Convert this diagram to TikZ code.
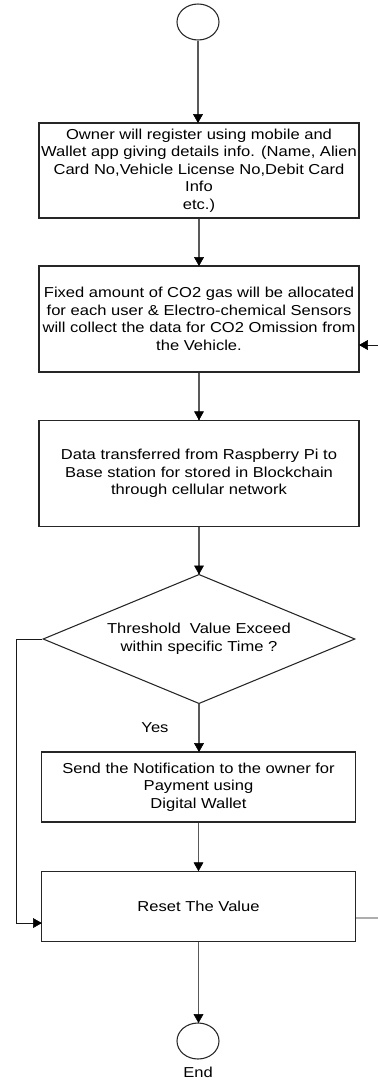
\documentclass[tikz,border=0pt]{standalone}
\usepackage{fontspec}
\newfontfamily\flowfont{Liberation Sans}[FakeStretch=1.15]
\usetikzlibrary{arrows.meta, positioning, shapes.geometric}

\tikzset{
  procbox/.style={draw=black!85, line width=0.8pt, rectangle, align=center,
    minimum width=240pt, inner sep=1pt},
  decision/.style={draw=black!85, line width=0.8pt, diamond, align=center,
    aspect=2.4, minimum width=234pt, minimum height=97pt, inner sep=0pt},
  terminal/.style={draw=black!85, line width=0.8pt, ellipse,
    minimum width=31.5pt, minimum height=27pt, inner sep=0pt},
  flow/.style={draw=black!65, line width=0.9pt},
  back/.style={draw=black!90, line width=0.7pt},
  tiphead/.style={fill=black, draw=black, line width=0.4pt}
}
% filled head, its point on the given coordinate
\newcommand\headdown[1]{\filldraw[tiphead] (#1) -- ++(-4.5,-8) -- ++(9,0) -- cycle;}
\newcommand\headright[1]{\filldraw[tiphead] (#1) -- ++(-8,-4.5) -- ++(0,9) -- cycle;}
\newcommand\headleft[1]{\filldraw[tiphead] (#1) -- ++(8,-4.5) -- ++(0,9) -- cycle;}

\begin{document}
\begin{tikzpicture}[x=0.75pt, y=-0.75pt, font=\flowfont\fontsize{10.8}{13.1}\selectfont]
\useasboundingbox (0,0) rectangle (378,1081);

\node[terminal] (start) at (198,22) {};
\node[procbox, minimum height=71.25pt] (register) at (199,170.5)
  {Owner will register using mobile and\\
   Wallet app giving details info. (Name, Alien\\
   Card No,Vehicle License No,Debit Card\\
   Info\\
   etc.)};
\node[procbox, minimum height=79.5pt] (allocate) at (199,319)
  {Fixed amount of CO2 gas will be allocated\\
   for each user \& Electro-chemical Sensors\\
   will collect the data for CO2 Omission from\\
   the Vehicle.};
\node[procbox, minimum height=80pt] (transfer) at (199,473.5)
  {Data transferred from Raspberry Pi to\\
   Base station for stored in Blockchain\\
   through cellular network};
\node[decision] (threshold) at (199,639)
  {Threshold\ \ Value Exceed\\ within specific Time ?};
\node[procbox, minimum width=235pt, minimum height=52.5pt] (notify) at (198.5,787)
  {Send the Notification to the owner for\\
   Payment using\\
   Digital Wallet};
\node[procbox, minimum width=235pt, minimum height=53pt] (reset) at (198.5,906.5)
  {Reset The Value};
\node[terminal] (finish) at (198,1041) {};
\node (endlabel) at (198,1072) {End};
\node (yes) at (155,728) {Yes};

% main flow
\foreach \n/\m in {start/register, register/allocate, allocate/transfer,
    transfer/threshold, threshold/notify, notify/reset, reset/finish}{
  \draw[flow] (\n) -- (\n |- \m.north);
  \headdown{\n |- \m.north}
}

% no branch and loop back
\coordinate (loopleft) at (16,639);
\coordinate (resetin) at ([yshift=-12.4pt]reset.west);
\draw[back] (threshold.west) -- (loopleft) |- (resetin);
\headright{resetin}
\coordinate (outright) at (378,918);
\coordinate (inright) at (378,345);
\draw[back] ([yshift=-8.6pt]reset.east) -- (outright);
\draw[back] (inright) -- (inright -| allocate.east);
\headleft{inright -| allocate.east}
\end{tikzpicture}
\end{document}
